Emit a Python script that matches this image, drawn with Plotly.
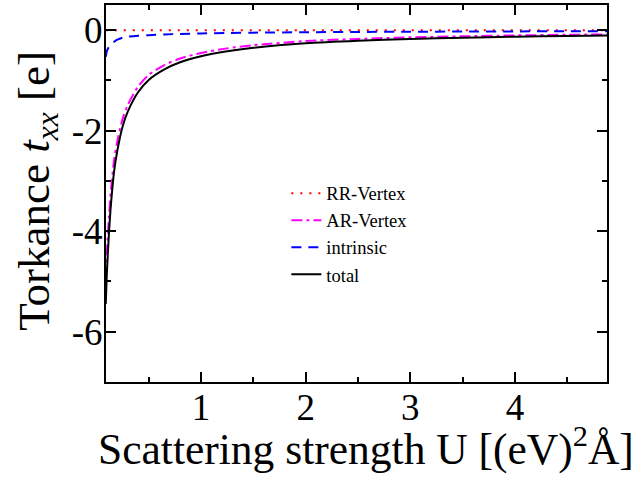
import plotly.graph_objects as go

# Scattering strength U [(eV)^2 Å]
U = [0.09, 0.10, 0.12, 0.14, 0.17, 0.20, 0.25, 0.30, 0.40, 0.50, 0.65, 0.80,
     1.00, 1.25, 1.50, 2.00, 2.50, 3.00, 3.50, 4.00, 4.50, 4.89]

rr_vertex = [0.0] * len(U)
ar_vertex = [-4.92, -4.43, -3.72, -3.17, -2.57, -2.21, -1.77, -1.49, -1.12, -0.89,
             -0.695, -0.565, -0.455, -0.363, -0.30, -0.218, -0.174, -0.143, -0.122,
             -0.105, -0.092, -0.084]
intrinsic = [-0.53, -0.42, -0.33, -0.28, -0.23, -0.19, -0.15, -0.13, -0.11, -0.10,
             -0.085, -0.075, -0.065, -0.057, -0.05, -0.042, -0.036, -0.032, -0.028,
             -0.025, -0.023, -0.021]
total = [-5.45, -4.85, -4.05, -3.45, -2.80, -2.40, -1.92, -1.62, -1.23, -0.99,
         -0.78, -0.64, -0.52, -0.42, -0.35, -0.26, -0.21, -0.175, -0.15, -0.13,
         -0.115, -0.105]

x_ticks = [1, 2, 3, 4]
y_ticks = [0, -2, -4, -6]

x_title = "Scattering strength U [(eV)<sup>2</sup>Å]"
y_title = "Torkance <i>t</i><sub><i>xx</i></sub> [e]"

FONT = "Liberation Serif"

fig = go.Figure()
fig.add_trace(go.Scatter(x=U, y=rr_vertex, mode="lines", name="RR-Vertex",
                         line=dict(color="#ff0000", width=2, dash="2px,7px")))
fig.add_trace(go.Scatter(x=U, y=ar_vertex, mode="lines", name="AR-Vertex",
                         line=dict(color="#ff00ff", width=2, dash="11px,4px,3px,4px",
                                   shape="spline", smoothing=0.8)))
fig.add_trace(go.Scatter(x=U, y=intrinsic, mode="lines", name="intrinsic",
                         line=dict(color="#0000ff", width=2, dash="10px,7px",
                                   shape="spline", smoothing=0.8)))
fig.add_trace(go.Scatter(x=U, y=total, mode="lines", name="total",
                         line=dict(color="#000000", width=2,
                                   shape="spline", smoothing=0.8)))

fig.update_xaxes(
    showline=True, linecolor="black", linewidth=2, mirror="ticks",
    ticks="inside", ticklen=10, tickwidth=2, tickcolor="black",
    showgrid=False, zeroline=False,
    tickfont=dict(family=FONT, size=37, color="black"),
    ticklabelstandoff=-8,
    range=[0.092, 4.879], tickvals=x_ticks, ticktext=[str(v) for v in x_ticks],
    minor=dict(ticks="inside", ticklen=5, tickwidth=2, tickcolor="black", dtick=0.5, tick0=0,
               showgrid=False),
)
fig.update_yaxes(
    showline=True, linecolor="black", linewidth=2, mirror="ticks",
    ticks="inside", ticklen=10, tickwidth=2, tickcolor="black",
    showgrid=False, zeroline=False,
    tickfont=dict(family=FONT, size=37, color="black"),
    ticklabelstandoff=-6,
    range=[-7, 0.5], tickvals=y_ticks, ticktext=[str(v) for v in y_ticks],
    minor=dict(ticks="inside", ticklen=5, tickwidth=2, tickcolor="black", dtick=1, tick0=0,
               showgrid=False),
)

fig.add_annotation(text=x_title, xref="paper", yref="paper", x=0.519, y=-0.171,
                   xanchor="center", yanchor="middle", showarrow=False,
                   font=dict(family=FONT, size=43.5, color="black"))
fig.add_annotation(text=y_title, xref="paper", yref="paper", x=-0.138, y=0.507,
                   xanchor="center", yanchor="middle", showarrow=False, textangle=-90,
                   font=dict(family=FONT, size=45, color="black"))

fig.update_layout(
    width=644, height=479,
    margin=dict(l=106, r=37, t=3, b=97, pad=0),
    plot_bgcolor="white", paper_bgcolor="white",
    legend=dict(x=0.36, y=0.55, xanchor="left", yanchor="top",
                bgcolor="rgba(0,0,0,0)", borderwidth=0,
                font=dict(family=FONT, size=18.5, color="black"),
                tracegroupgap=0, itemwidth=30),
    showlegend=True,
)

fig.write_html("out.html")
